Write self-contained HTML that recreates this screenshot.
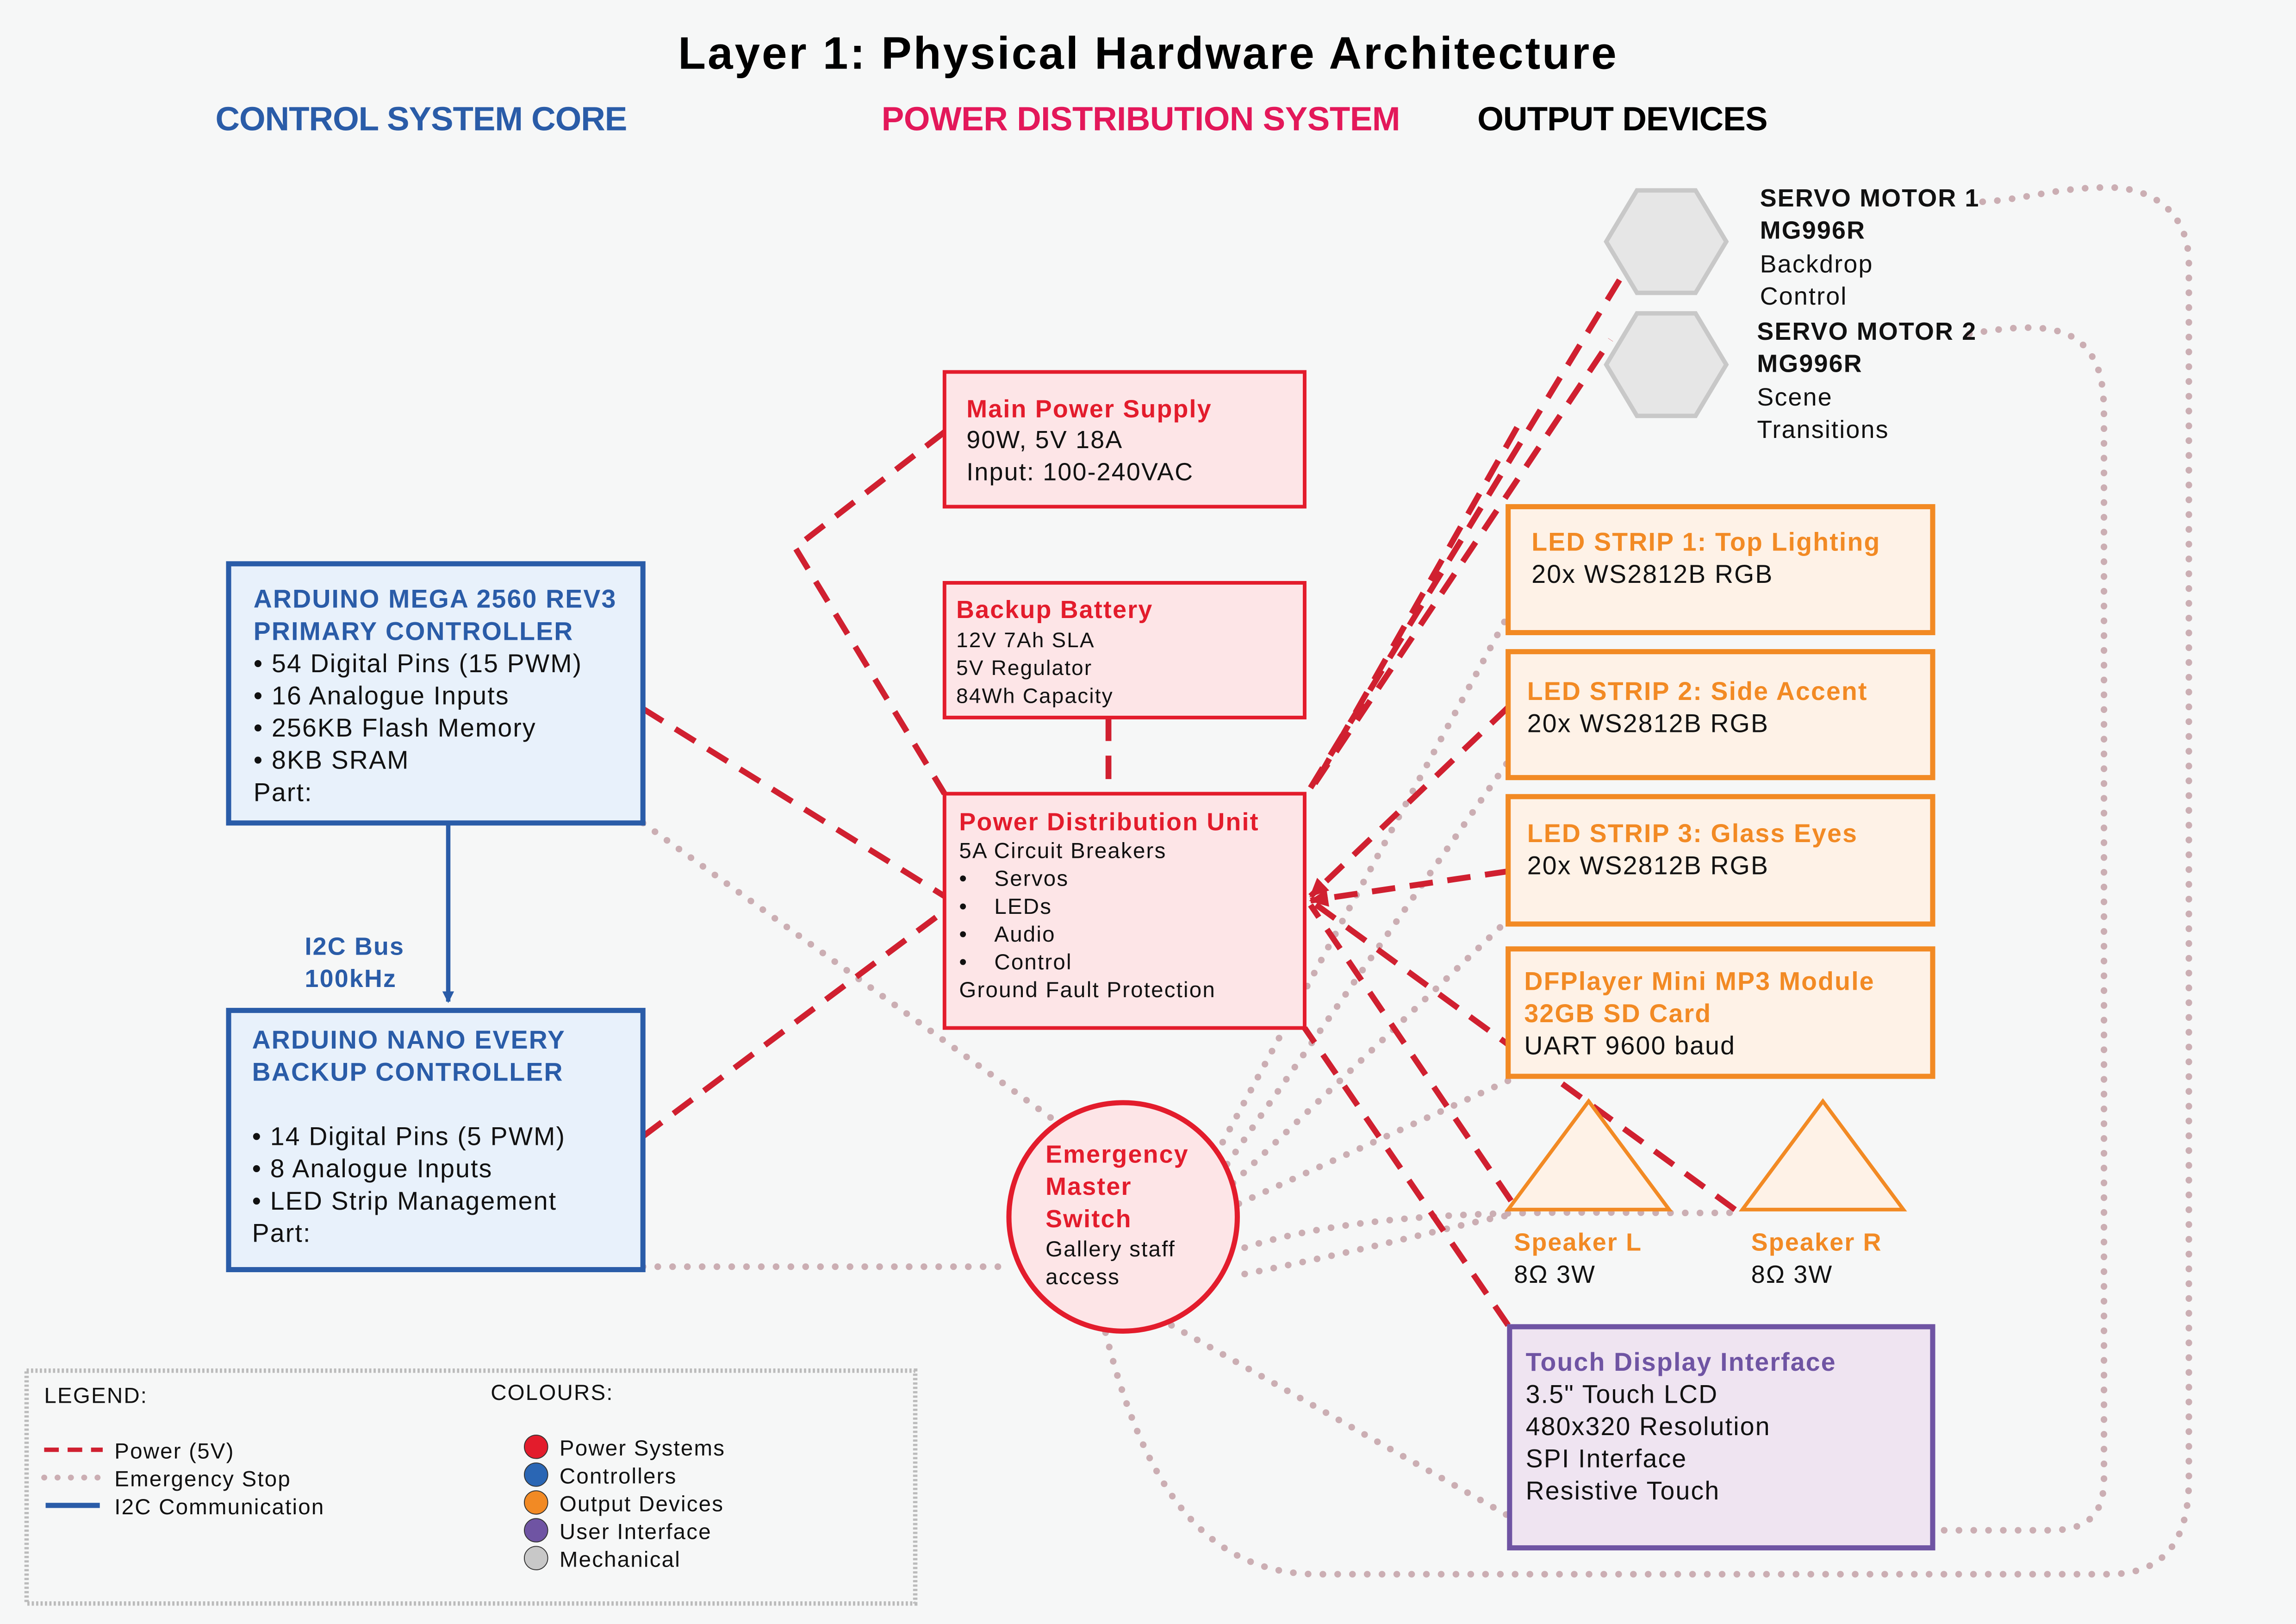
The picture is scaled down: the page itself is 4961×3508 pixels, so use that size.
<!DOCTYPE html>
<html><head><meta charset="utf-8"><style>
html,body{margin:0;padding:0;background:#f6f7f7;}
svg{display:block;}
text{font-family:"Liberation Sans",sans-serif;letter-spacing:0.7px;}
</style></head><body>
<svg width="4961" height="3508" viewBox="0 0 1568 1109" xmlns="http://www.w3.org/2000/svg">
<rect width="1568" height="1109" fill="#f6f7f7"/>
<defs>
<marker id="ar" markerWidth="8" markerHeight="8" refX="7" refY="4" orient="auto" markerUnits="userSpaceOnUse"><path d="M0,0 L8,4 L0,8 z" fill="#2a5ca8"/></marker>
<marker id="rr" markerWidth="14" markerHeight="14" refX="12" refY="7" orient="auto" markerUnits="userSpaceOnUse"><path d="M0,1 L13,7 L0,13 z" fill="#d02030"/></marker>
</defs>

<!-- Titles -->
<text x="463" y="47" font-size="31" font-weight="bold" fill="#000" textLength="641" style="letter-spacing:0">Layer 1: Physical Hardware Architecture</text>
<text x="147" y="89" font-size="23" font-weight="bold" fill="#2a5ca8" textLength="282">CONTROL SYSTEM CORE</text>
<text x="602" y="89" font-size="23" font-weight="bold" fill="#e3185a" textLength="355">POWER DISTRIBUTION SYSTEM</text>
<text x="1009" y="89" font-size="23" font-weight="bold" fill="#000" textLength="199">OUTPUT DEVICES</text>

<!-- Dotted emergency lines -->
<g fill="none" stroke="#cbaeb3" stroke-width="4.5" stroke-linecap="round" stroke-dasharray="0.1 10">
<path d="M439,562 L720,765"/>
<path d="M439,865 L690,865"/>
<path d="M835,780 L1030,420"/>
<path d="M838,795 L1030,520"/>
<path d="M842,808 L1030,628"/>
<path d="M846,822 L1030,738"/>
<path d="M850,852 C950,820 1100,830 1190,828"/>
<path d="M850,870 C950,850 1000,835 1030,830"/>
<path d="M800,905 L1030,1035"/>
<path d="M755,910 C780,1010 820,1075 900,1075 L1440,1075 C1480,1075 1495,1050 1495,1010 L1495,180 C1495,145 1470,128 1440,128 C1400,128 1380,138 1345,138"/>
<path d="M1345,228 C1380,222 1410,220 1425,238 C1437,252 1437,270 1437,290 L1437,1010 C1437,1035 1425,1045 1400,1045 L1322,1045"/>
</g>

<!-- Red dashed power lines -->
<g fill="none" stroke="#d02030" stroke-width="4" stroke-dasharray="16 10">
<path d="M645,295 L543,374 L645,542"/>
<path d="M757,490 L757,542"/>
<path d="M439,484 L645,612"/>
<path d="M439,776 L645,622"/>
<path d="M895,538 L1108,188"/>
<path d="M898,535 L1100,232"/>
<path d="M900,532 L1040,285"/>
<path d="M1030,483 L895,612" marker-end="url(#rr)"/>
<path d="M1030,595 L895,615" marker-end="url(#rr)"/>
<path d="M1185,826 L895,615"/>
<path d="M1032,820 L895,618"/>
<path d="M1030,905 L891,702"/>
</g>

<!-- I2C arrow -->
<line x1="306" y1="562" x2="306" y2="684" stroke="#2a5ca8" stroke-width="3" marker-end="url(#ar)"/>
<text x="208" y="652" font-size="17" font-weight="bold" fill="#2a5ca8">I2C Bus</text>
<text x="208" y="674" font-size="17" font-weight="bold" fill="#2a5ca8">100kHz</text>

<!-- Mega -->
<rect x="156" y="385" width="283" height="177" fill="#e8f1fb" stroke="#2a5ca8" stroke-width="3.5"/>
<g font-size="17.5" fill="#111">
<text x="173" y="415" font-weight="bold" fill="#2a5ca8">ARDUINO MEGA 2560 REV3</text>
<text x="173" y="437" font-weight="bold" fill="#2a5ca8">PRIMARY CONTROLLER</text>
<text x="173" y="459">• 54 Digital Pins (15 PWM)</text>
<text x="173" y="481">• 16 Analogue Inputs</text>
<text x="173" y="503">• 256KB Flash Memory</text>
<text x="173" y="525">• 8KB SRAM</text>
<text x="173" y="547">Part:</text>
</g>

<!-- Nano -->
<rect x="156" y="690" width="283" height="177" fill="#e8f1fb" stroke="#2a5ca8" stroke-width="3.5"/>
<g font-size="17.5" fill="#111">
<text x="172" y="716" font-weight="bold" fill="#2a5ca8">ARDUINO NANO EVERY</text>
<text x="172" y="738" font-weight="bold" fill="#2a5ca8">BACKUP CONTROLLER</text>
<text x="172" y="782">• 14 Digital Pins (5 PWM)</text>
<text x="172" y="804">• 8 Analogue Inputs</text>
<text x="172" y="826">• LED Strip Management</text>
<text x="172" y="848">Part:</text>
</g>

<!-- Main Power Supply -->
<rect x="645" y="254" width="246" height="92" fill="#fde5e7" stroke="#e31c2c" stroke-width="2.5"/>
<g font-size="17" fill="#111">
<text x="660" y="285" font-weight="bold" fill="#e31c2c">Main Power Supply</text>
<text x="660" y="306">90W, 5V 18A</text>
<text x="660" y="328">Input: 100-240VAC</text>
</g>

<!-- Backup Battery -->
<rect x="645" y="398" width="246" height="92" fill="#fde5e7" stroke="#e31c2c" stroke-width="2.5"/>
<g font-size="14.5" fill="#111">
<text x="653" y="422" font-size="17" font-weight="bold" fill="#e31c2c">Backup Battery</text>
<text x="653" y="442">12V 7Ah SLA</text>
<text x="653" y="461">5V Regulator</text>
<text x="653" y="480">84Wh Capacity</text>
</g>

<!-- PDU -->
<rect x="645" y="542" width="246" height="160" fill="#fde5e7" stroke="#e31c2c" stroke-width="2.5"/>
<g font-size="15" fill="#111">
<text x="655" y="567" font-size="17" font-weight="bold" fill="#e31c2c">Power Distribution Unit</text>
<text x="655" y="586">5A Circuit Breakers</text>
<text x="655" y="605">•</text><text x="679" y="605">Servos</text>
<text x="655" y="624">•</text><text x="679" y="624">LEDs</text>
<text x="655" y="643">•</text><text x="679" y="643">Audio</text>
<text x="655" y="662">•</text><text x="679" y="662">Control</text>
<text x="655" y="681">Ground Fault Protection</text>
</g>

<!-- Emergency -->
<circle cx="767" cy="831" r="78" fill="#fde5e7" stroke="#e31c2c" stroke-width="3.5"/>
<g font-size="17" fill="#111">
<text x="714" y="794" font-weight="bold" fill="#e31c2c">Emergency</text>
<text x="714" y="816" font-weight="bold" fill="#e31c2c">Master</text>
<text x="714" y="838" font-weight="bold" fill="#e31c2c">Switch</text>
<text x="714" y="858" font-size="15">Gallery staff</text>
<text x="714" y="877" font-size="15">access</text>
</g>

<!-- Servos -->
<polygon points="1097,165 1118,130 1158,130 1179,165 1158,200 1118,200" fill="#e6e6e6" stroke="#c8c8c8" stroke-width="3"/>
<polygon points="1097,249 1118,214 1158,214 1179,249 1158,284 1118,284" fill="#e6e6e6" stroke="#c8c8c8" stroke-width="3"/>
<g font-size="17" fill="#111">
<text x="1202" y="141" font-weight="bold">SERVO MOTOR 1</text>
<text x="1202" y="163" font-weight="bold">MG996R</text>
<text x="1202" y="186">Backdrop</text>
<text x="1202" y="208">Control</text>
<text x="1200" y="232" font-weight="bold">SERVO MOTOR 2</text>
<text x="1200" y="254" font-weight="bold">MG996R</text>
<text x="1200" y="277">Scene</text>
<text x="1200" y="299">Transitions</text>
</g>

<!-- LED strips -->
<g fill="#fef2e7" stroke="#f28a24" stroke-width="3.5">
<rect x="1030" y="346" width="290" height="86"/>
<rect x="1030" y="445" width="290" height="86"/>
<rect x="1030" y="544" width="290" height="87"/>
<rect x="1030" y="648" width="290" height="87"/>
</g>
<g font-size="17.5" fill="#111">
<text x="1046" y="376" font-weight="bold" fill="#f28a24">LED STRIP 1: Top Lighting</text>
<text x="1046" y="398">20x WS2812B RGB</text>
<text x="1043" y="478" font-weight="bold" fill="#f28a24">LED STRIP 2: Side Accent</text>
<text x="1043" y="500">20x WS2812B RGB</text>
<text x="1043" y="575" font-weight="bold" fill="#f28a24">LED STRIP 3: Glass Eyes</text>
<text x="1043" y="597">20x WS2812B RGB</text>
<text x="1041" y="676" font-weight="bold" fill="#f28a24">DFPlayer Mini MP3 Module</text>
<text x="1041" y="698" font-weight="bold" fill="#f28a24">32GB SD Card</text>
<text x="1041" y="720">UART 9600 baud</text>
</g>

<!-- Speakers -->
<polygon points="1085,752 1140,826 1030,826" fill="#fef2e7" stroke="#f28a24" stroke-width="2.5"/>
<polygon points="1245,752 1300,826 1190,826" fill="#fef2e7" stroke="#f28a24" stroke-width="2.5"/>
<g font-size="17" fill="#111">
<text x="1034" y="854" font-weight="bold" fill="#f28a24">Speaker L</text>
<text x="1034" y="876">8Ω 3W</text>
<text x="1196" y="854" font-weight="bold" fill="#f28a24">Speaker R</text>
<text x="1196" y="876">8Ω 3W</text>
</g>

<!-- Touch display -->
<rect x="1031" y="906" width="289" height="151" fill="#efe4f1" stroke="#6f54a3" stroke-width="3.5"/>
<g font-size="17.5" fill="#111">
<text x="1042" y="936" font-weight="bold" fill="#6f54a3">Touch Display Interface</text>
<text x="1042" y="958">3.5" Touch LCD</text>
<text x="1042" y="980">480x320 Resolution</text>
<text x="1042" y="1002">SPI Interface</text>
<text x="1042" y="1024">Resistive Touch</text>
</g>

<!-- Legend -->
<rect x="18" y="936" width="607" height="159" fill="none" stroke="#bbb" stroke-width="3" stroke-dasharray="1.5 1.5"/>
<g font-size="15" fill="#111">
<text x="30" y="958">LEGEND:</text>
<text x="335" y="956">COLOURS:</text>
<line x1="30" y1="990" x2="70" y2="990" stroke="#d02030" stroke-width="3" stroke-dasharray="10 6"/>
<text x="78" y="996">Power (5V)</text>
<line x1="30" y1="1009" x2="72" y2="1009" stroke="#cbaeb3" stroke-width="4" stroke-linecap="round" stroke-dasharray="0.1 9"/>
<text x="78" y="1015">Emergency Stop</text>
<line x1="31" y1="1028" x2="68" y2="1028" stroke="#2a5ca8" stroke-width="3.5"/>
<text x="78" y="1034">I2C Communication</text>
<circle cx="366" cy="988" r="8" fill="#e31c2c" stroke="#333" stroke-width="0.6"/>
<circle cx="366" cy="1007" r="8" fill="#2a66b4" stroke="#333" stroke-width="0.6"/>
<circle cx="366" cy="1026" r="8" fill="#f28a24" stroke="#333" stroke-width="0.6"/>
<circle cx="366" cy="1045" r="8" fill="#6f54a3" stroke="#333" stroke-width="0.6"/>
<circle cx="366" cy="1064" r="8" fill="#c8c8c8" stroke="#333" stroke-width="0.6"/>
<text x="382" y="994">Power Systems</text>
<text x="382" y="1013">Controllers</text>
<text x="382" y="1032">Output Devices</text>
<text x="382" y="1051">User Interface</text>
<text x="382" y="1070">Mechanical</text>
</g>
</svg>
</body></html>
